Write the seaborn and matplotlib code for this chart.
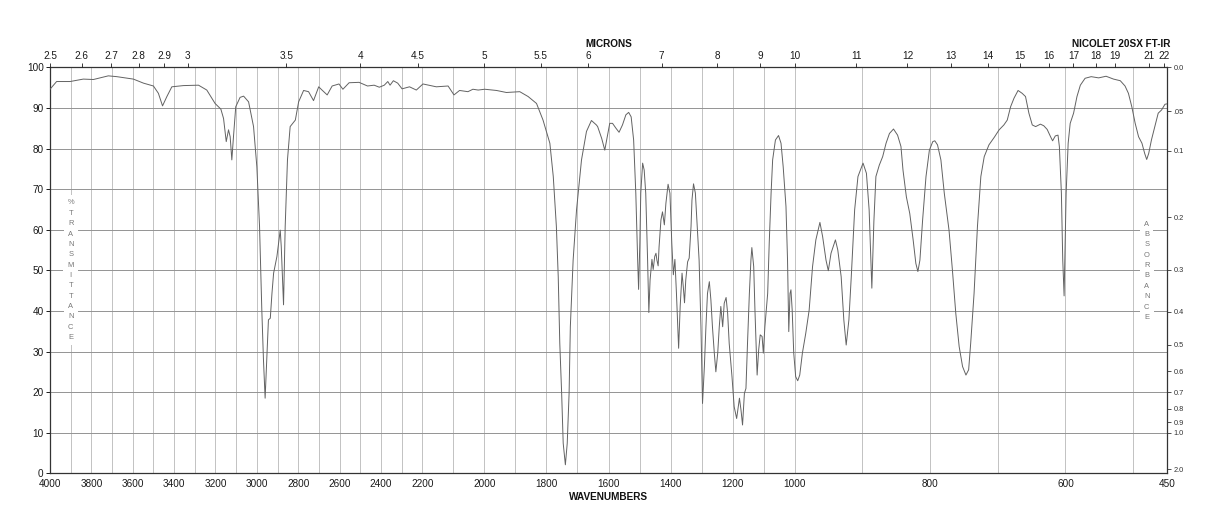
import numpy as np
import matplotlib
matplotlib.use("Agg")
import matplotlib.pyplot as plt
import seaborn as sns

# ---------------- data ----------------
wavenumber = [
    4000, 3968, 3903, 3839, 3790, 3718, 3677, 3597, 3548, 3500, 3476, 3456, 3435, 3411,
    3355, 3282, 3242, 3202, 3174, 3161, 3148, 3137, 3129, 3121, 3113, 3102, 3081, 3064,
    3040, 3016, 3000, 2987, 2976, 2968, 2960, 2952, 2944, 2935, 2927, 2919, 2903, 2887,
    2882, 2871, 2863, 2852, 2839, 2814, 2798, 2774, 2750, 2726, 2701, 2685, 2660, 2636,
    2603, 2584, 2554, 2506, 2465, 2433, 2408, 2384, 2367, 2356, 2340, 2319, 2298, 2262,
    2229, 2198, 2155, 2117, 2098, 2080, 2053, 2037, 2020, 1999, 1961, 1929, 1886, 1859,
    1832, 1811, 1789, 1778, 1768, 1762, 1757, 1751, 1746, 1739, 1733, 1727, 1723, 1714,
    1703, 1687, 1671, 1655, 1639, 1635, 1622, 1612, 1603, 1596, 1587, 1576, 1566, 1555,
    1544, 1535, 1527, 1519, 1512, 1506, 1503, 1499, 1496, 1490, 1485, 1480, 1474, 1470,
    1466, 1460, 1456, 1451, 1447, 1444, 1440, 1437, 1431, 1426, 1420, 1415, 1408, 1402,
    1396, 1391, 1386, 1381, 1374, 1369, 1363, 1359, 1355, 1351, 1345, 1340, 1334, 1331,
    1326, 1320, 1313, 1308, 1302, 1297, 1291, 1286, 1281, 1275, 1270, 1265, 1259, 1254,
    1248, 1243, 1238, 1232, 1227, 1221, 1216, 1211, 1202, 1195, 1187, 1178, 1173, 1168,
    1162, 1157, 1152, 1146, 1141, 1138, 1132, 1128, 1121, 1116, 1111, 1105, 1101, 1096,
    1087, 1082, 1076, 1071, 1062, 1052, 1044, 1037, 1028, 1023, 1019, 1015, 1012, 1008,
    1003, 998.5, 995.5, 992.5, 988.6, 983.6, 978.6, 973.6, 968.7, 962.7, 958.7, 953.7,
    950.3, 946.3, 939.8, 936.3, 931.3, 927.4, 923.9, 919.9, 916.4, 911.4, 906.5, 899,
    894, 890, 886, 883, 880, 875, 870, 865, 860, 854, 848, 843, 840, 835, 830, 825, 821,
    818, 815, 811, 806, 801, 796, 793, 789, 784, 779, 772, 767, 762, 757, 752, 747, 743,
    740, 735, 730, 725, 720, 713, 705, 698, 691, 686, 681, 676, 670, 664, 659, 654, 649,
    644, 637, 632, 627, 622, 619, 615, 611, 609, 606, 604, 602, 601, 599, 596, 593, 588,
    583, 578, 571, 562, 551, 540, 529, 519, 512, 507, 502, 497, 492, 487, 483, 480, 477,
    473, 468, 463, 458, 453, 450,
]
transmittance = [
    94.6, 96.5, 96.5, 97.1, 97.0, 97.9, 97.7, 97.1, 96.1, 95.4, 93.6, 90.5, 92.8, 95.2,
    95.5, 95.6, 94.4, 91.1, 89.7, 87.4, 81.7, 84.6, 82.9, 77.2, 82.9, 90.3, 92.6, 92.9,
    91.5, 85.4, 75.5, 60.8, 40.2, 27.9, 18.5, 27.9, 37.8, 38.2, 44.3, 49.3, 53.4, 59.9,
    55.8, 41.5, 60.8, 77.2, 85.4, 87.0, 91.5, 94.3, 94.0, 91.8, 95.2, 94.4, 93.2, 95.4,
    95.9, 94.6, 96.2, 96.3, 95.4, 95.6, 95.1, 95.6, 96.5, 95.6, 96.7, 96.1, 94.7, 95.2,
    94.4, 95.9, 95.2, 95.4, 93.2, 94.3, 94.0, 94.6, 94.4, 94.6, 94.3, 93.8, 94.0, 92.8,
    91.1, 87.0, 81.3, 73.1, 60.8, 48.4, 32.0, 19.7, 7.4, 2.1, 7.4, 19.7, 36.1, 52.5,
    64.9, 77.2, 84.2, 86.9, 85.8, 85.4, 82.5, 79.6, 83.3, 86.2, 86.2, 85.0, 84.0, 85.8,
    88.3, 88.9, 87.8, 82.1, 69.0, 52.5, 45.3, 56.7, 69.0, 76.4, 74.7, 69.0, 52.5, 39.6,
    47.6, 52.7, 50.2, 53.4, 54.2, 52.5, 51.1, 55.8, 62.4, 64.4, 61.2, 66.5, 71.2, 69.0,
    56.7, 48.9, 52.7, 44.3, 30.8, 41.1, 49.3, 46.0, 42.0, 47.6, 52.1, 53.0, 60.8, 67.3,
    71.3, 69.0, 59.1, 52.5, 36.1, 17.2, 26.3, 36.1, 44.3, 47.2, 42.7, 36.1, 29.6, 25.0,
    29.6, 36.1, 41.1, 36.1, 41.9, 43.3, 39.4, 32.0, 23.8, 16.4, 13.5, 18.5, 15.6, 11.9,
    19.7, 20.9, 32.0, 44.3, 52.5, 55.6, 50.9, 40.2, 24.2, 30.4, 34.1, 33.7, 29.6, 36.1,
    44.3, 56.7, 69.0, 77.2, 82.1, 83.2, 81.3, 75.5, 65.7, 52.5, 34.9, 44.3, 45.2, 40.2,
    29.6, 23.8, 22.8, 24.2, 29.6, 34.5, 40.2, 50.9, 57.5, 61.8, 58.3, 52.5,
    49.9, 54.2, 57.5, 55.0, 48.4, 37.8, 31.6, 37.8, 48.4, 64.9, 73.1, 76.4,
    73.9, 64.9, 45.6, 62.0, 73.1, 75.9, 78.0, 81.3, 83.7, 84.8, 83.3, 80.5, 74.7, 68.1, 64.0, 57.5, 51.7,
    49.7, 52.5, 62.4, 73.1, 79.6, 81.7, 81.9, 80.9, 77.2, 69.0, 59.9, 50.1, 39.4, 31.2, 26.3, 24.2, 25.5,
    32.0, 44.3, 60.8, 73.1, 78.0, 80.9, 82.8, 84.6, 85.8, 87.0, 90.3, 92.4, 94.3, 93.6, 92.8, 88.7, 85.8,
    85.4, 86.0, 85.6, 84.7, 82.9, 81.9, 83.1, 83.3, 80.5, 69.0, 52.5, 43.7, 52.5, 69.0, 81.3, 86.2, 88.7,
    92.8, 95.6, 97.3, 97.7, 97.4, 97.8, 97.1, 96.7, 95.4, 93.6, 90.3, 86.2, 82.9, 81.3, 78.8, 77.3, 78.8,
    82.1, 85.4, 88.7, 89.5, 90.9, 91.0,
]

wn_ticks = [4000, 3800, 3600, 3400, 3200, 3000, 2800, 2600, 2400, 2200,
            2000, 1800, 1600, 1400, 1200, 1000, 800, 600, 450]
micron_ticks = [2.5, 2.6, 2.7, 2.8, 2.9, 3, 3.5, 4, 4.5, 5, 5.5, 6, 7, 8, 9, 10,
                11, 12, 13, 14, 15, 16, 17, 18, 19, 21, 22]
absorbance_ticks = [0.0, 0.05, 0.1, 0.2, 0.3, 0.4, 0.5, 0.6, 0.7, 0.8, 0.9, 1.0, 2.0]
absorbance_labels = ["0.0", ".05", "0.1", "0.2", "0.3", "0.4", "0.5", "0.6",
                     "0.7", "0.8", "0.9", "1.0", "2.0"]
pct_ticks = list(range(0, 101, 10))


# ---------------- piecewise instrument abscissa ----------------
def fwd(w):
    w = np.asarray(w, dtype=float)
    return np.where(w >= 2200, 2 + (w - 2200) / 1800.0,
                    np.where(w >= 1000, 1 + (w - 1000) / 1200.0, (w - 450) / 550.0))


def inv(p):
    p = np.asarray(p, dtype=float)
    return np.where(p >= 2, 2200 + (p - 2) * 1800.0,
                    np.where(p >= 1, 1000 + (p - 1) * 1200.0, 450 + p * 550.0))


sns.set_theme(style="white")
plt.rcParams["font.family"] = ["Liberation Sans", "DejaVu Sans"]

fig = plt.figure(figsize=(12.18, 5.28), dpi=100)
ax = fig.add_axes([0.04105, 0.1036, 0.91708, 0.7689])

sns.lineplot(x=wavenumber, y=transmittance, ax=ax, color="#626262",
             linewidth=0.7, estimator=None, sort=False, zorder=5)

ax.set_xscale("function", functions=(fwd, inv))
ax.set_xlim(4000, 450)
ax.set_ylim(0, 100)
ax.set_xlabel("")
ax.set_ylabel("")
ax.set_axisbelow(True)

ax.set_xticks(wn_ticks)
ax.set_xticklabels([str(t) for t in wn_ticks])
ax.set_xticks(np.arange(500, 4000, 100), minor=True)
ax.set_yticks(pct_ticks)
ax.set_yticklabels([str(t) for t in pct_ticks])

ax.grid(axis="x", which="both", color="#c2c2c2", linewidth=0.7)
ax.grid(axis="y", which="major", color="#939393", linewidth=0.7)
ax.tick_params(axis="x", which="both", length=0, pad=4, labelsize=7.2, colors="#1a1a1a")
ax.tick_params(axis="y", which="major", length=3, width=0.7, pad=1.5, labelsize=7.2,
               colors="#1a1a1a", left=True)
for s in ax.spines.values():
    s.set_color("#333333")
    s.set_linewidth(0.9)

# right absorbance scale
axr = ax.twinx()
axr.set_ylim(0, 100)
axr.set_yticks([100 * 10 ** (-a) for a in absorbance_ticks])
axr.set_yticklabels(absorbance_labels)
axr.tick_params(axis="y", length=3, width=0.6, pad=1.5, labelsize=5.3, colors="#333333")
axr.grid(False)
for s in axr.spines.values():
    s.set_visible(False)

# top micron scale
axt = ax.twiny()
axt.set_xscale("function", functions=(fwd, inv))
axt.set_xlim(4000, 450)
axt.set_xticks([10000.0 / m for m in micron_ticks])
axt.set_xticklabels([f"{m:g}" for m in micron_ticks])
axt.xaxis.set_minor_locator(matplotlib.ticker.NullLocator())
axt.tick_params(axis="x", length=3, width=0.6, pad=1.5, labelsize=7.2, colors="#1a1a1a")
axt.grid(False)
for s in axt.spines.values():
    s.set_visible(False)

# stacked vertical captions
trans = ax.get_xaxis_transform()
word1 = "%TRANSMITTANCE"
for i, ch in enumerate(word1):
    ax.text(3900, 0.6658 - i * 0.02552, ch, transform=trans, ha="center", va="center",
            fontsize=5.4, color="#777777", zorder=4,
            bbox=dict(facecolor="white", edgecolor="none", pad=3.0))
word2 = "ABSORBANCE"
for i, ch in enumerate(word2):
    ax.text(480, 0.6133 - i * 0.02546, ch, transform=trans, ha="center", va="center",
            fontsize=5.4, color="#777777", zorder=4,
            bbox=dict(facecolor="white", edgecolor="none", pad=3.0))

fig.text(0.5, 0.9161, "MICRONS", ha="center", va="center", fontsize=7.2,
         fontweight="bold", color="#111111")
fig.text(0.9204, 0.9161, "NICOLET 20SX FT-IR", ha="center", va="center", fontsize=7.2,
         fontweight="bold", color="#111111")
fig.text(0.5, 0.0593, "WAVENUMBERS", ha="center", va="center", fontsize=7.2,
         fontweight="bold", color="#111111")

fig.savefig("out.png", dpi=100)
